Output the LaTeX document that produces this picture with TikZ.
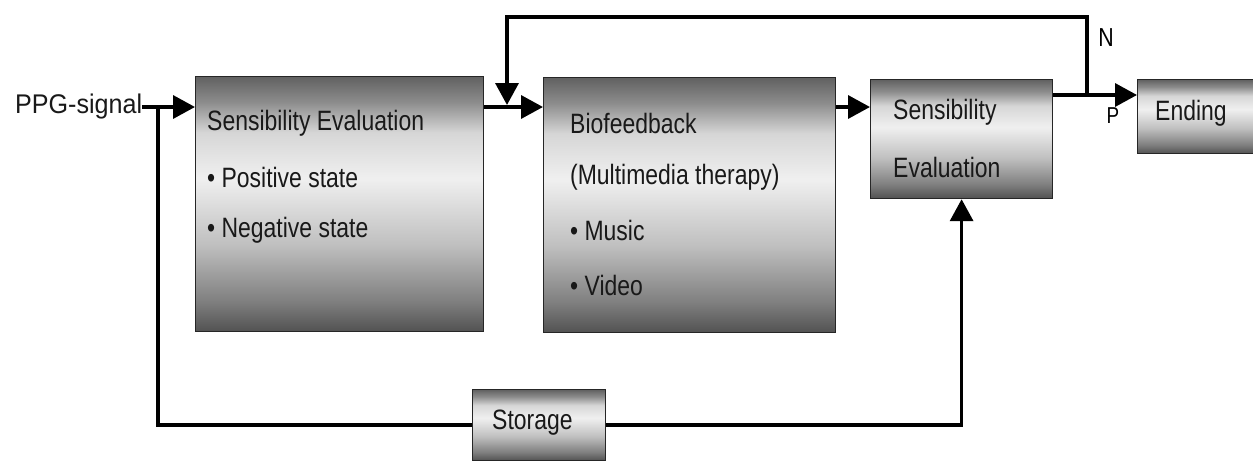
\documentclass[tikz,border=0pt]{standalone}
\usepackage{fontspec}
\setmainfont{Liberation Sans}[FakeStretch=0.82]
\newfontfamily\widefont{Liberation Sans}[FakeStretch=0.93]
\usetikzlibrary{arrows.meta}
\pgfdeclareverticalshading{boxshade}{100bp}{color(0bp)=(black!68); color(25bp)=(black!68); color(31bp)=(black!50); color(42bp)=(black!25); color(55bp)=(black!6); color(64bp)=(black!16); color(70bp)=(black!45); color(75bp)=(black!62); color(100bp)=(black!62)}
\begin{document}
\begin{tikzpicture}[x=1pt,y=-1pt,
  box/.style={draw=black!85, line width=1.2pt, shading=boxshade, anchor=north west, inner sep=0pt},
  txt/.style={anchor=west, inner sep=0pt, font=\fontsize{28}{32}\selectfont, text=black!90},
  lbl/.style={inner sep=0pt, font=\fontsize{26}{30}\selectfont, text=black},
  conn/.style={line width=3.5pt, draw=black},
  arr/.style={conn, -{Triangle[length=22pt,width=23pt]}}]
\useasboundingbox (0,0) rectangle (1253,461);
% boxes
\node[box, minimum width=288pt, minimum height=255pt] (b1) at (195,76) {};
\node[box, minimum width=292pt, minimum height=255pt] (b2) at (543,77) {};
\node[box, minimum width=182pt, minimum height=119pt] (b3) at (870,79) {};
\node[box, minimum width=122pt, minimum height=74pt] (fin) at (1137,79) {};
\node[box, minimum width=133pt, minimum height=71pt] (st) at (472,389) {};
% texts
\node[txt, font=\widefont\fontsize{27}{30}\selectfont] (ppg) at (15,107) {PPG-signal};
\node[txt] (t11) at (207,123) {Sensibility Evaluation};
\node[txt] (t12) at (207,177) {\textbullet\ Positive state};
\node[txt] (t13) at (207,230) {\textbullet\ Negative state};
\node[txt] (t21) at (570,123) {Biofeedback};
\node[txt] (t22) at (570,177) {(Multimedia therapy)};
\node[txt] (t23) at (570,230) {\textbullet\ Music};
\node[txt] (t24) at (570,285) {\textbullet\ Video};
\node[txt] (t31) at (893,112) {Sensibility};
\node[txt] (t32) at (893,167) {Evaluation};
\node[txt] (t41) at (1155,113) {Ending};
\node[txt] (t51) at (492,423) {Storage};
\node[lbl] (nlab) at (1106,38) {N};
\node[lbl, font=\fontsize{23}{26}\selectfont] (plab) at (1113,116) {P};
% helper coordinates
\coordinate (row) at (0,107);
\coordinate (prow) at (0,95);
\coordinate (j1) at (158,107);
\coordinate (jn) at (1087,95);
\coordinate (fbtop) at (507,17);
\coordinate (fbin) at (507,105);
% connectors
\draw[arr] (ppg.east) -- (b1.west |- row);
\draw[conn] (st.west) -| (j1);
\draw[arr] (b1.east |- row) -- (b2.west |- row);
\draw[arr] (jn) |- (fbtop) -- (fbin);
\draw[arr] (b2.east |- row) -- (b3.west |- row);
\draw[arr] (b3.east |- prow) -- (fin.west |- prow);
\draw[arr] (st.east) -| (b3.south);
\end{tikzpicture}
\end{document}
